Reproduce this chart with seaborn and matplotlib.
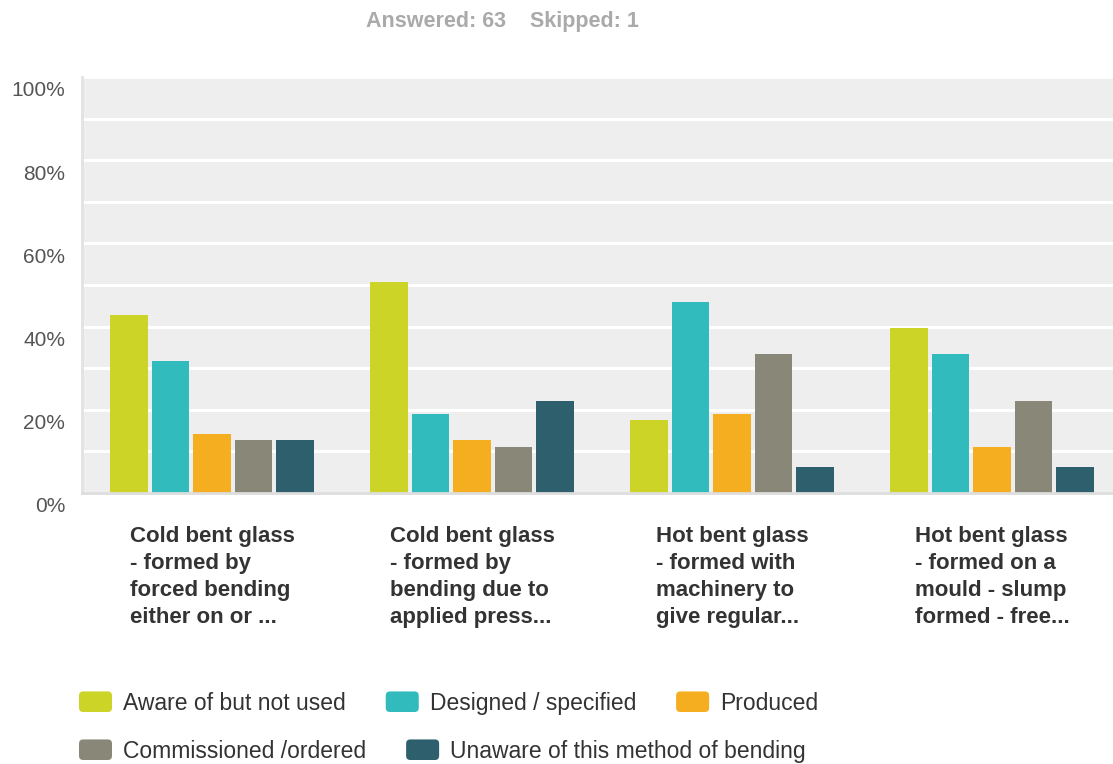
import matplotlib
matplotlib.use("Agg")
import matplotlib.pyplot as plt
import matplotlib.transforms as mtransforms
from matplotlib.patches import FancyBboxPatch, Rectangle
from matplotlib.legend_handler import HandlerPatch
from matplotlib.ticker import MultipleLocator, FuncFormatter
import seaborn as sns
import pandas as pd

categories = [
    "Cold bent glass\n- formed by\nforced bending\neither on or ...",
    "Cold bent glass\n- formed by\nbending due to\napplied press...",
    "Hot bent glass\n- formed with\nmachinery to\ngive regular...",
    "Hot bent glass\n- formed on a\nmould - slump\nformed - free...",
]
series = ["Aware of but not used", "Designed / specified", "Produced",
          "Commissioned /ordered", "Unaware of this method of bending"]
aware = [42.86, 50.79, 17.46, 39.68]
designed = [31.75, 19.05, 46.03, 33.33]
produced = [14.29, 12.70, 19.05, 11.11]
commissioned = [12.70, 11.11, 33.33, 22.22]
unaware = [12.70, 22.22, 6.35, 6.35]
colors = ["#CDD428", "#32BBBD", "#F5AE1F", "#898878", "#2D5F6C"]
title_text = "Answered: 63    Skipped: 1"

rows = []
for s, vals in zip(series, [aware, designed, produced, commissioned, unaware]):
    for c, v in zip(categories, vals):
        rows.append({"category": c, "series": s, "value": v})
df = pd.DataFrame(rows)

sns.set_style("white")
plt.rcParams["font.family"] = ["Liberation Sans", "DejaVu Sans"]

W, H = 1113, 764
fig = plt.figure(figsize=(W / 100, H / 100), dpi=100)
ax = fig.add_axes([82 / W, 1 - 493 / H, 1040 / W, 416 / H])
ax.set_facecolor("#EEEEEE")

sns.barplot(data=df, x="category", y="value", hue="series", order=categories,
            hue_order=series, palette=colors, width=0.8, gap=0.1,
            linewidth=0, saturation=1, ax=ax, legend=True)

ax.set_xlim(-0.5, 3.5)
ax.set_ylim(0, 100)
ax.yaxis.set_major_locator(MultipleLocator(20))
ax.yaxis.set_minor_locator(MultipleLocator(10))
ax.yaxis.set_major_formatter(FuncFormatter(lambda v, p: f"{int(v)}%"))
ax.grid(which="both", axis="y", color="white", linewidth=2.2)
ax.grid(which="both", axis="x", visible=False)
ax.set_axisbelow(True)
ax.set_xlabel("")
ax.set_ylabel("")
for side in ["top", "right"]:
    ax.spines[side].set_visible(False)
ax.spines["left"].set_color("#E2E2E2")
ax.spines["left"].set_linewidth(2)
ax.spines["bottom"].set_color("#DDDDDD")
ax.spines["bottom"].set_linewidth(2)

ax.tick_params(axis="y", which="both", length=0, pad=12, labelsize=15, labelcolor="#555555")
ax.tick_params(axis="x", length=0, pad=24, labelsize=16, labelcolor="#333333")
offset = mtransforms.ScaledTranslation(0, -12 / 100, fig.dpi_scale_trans)
for lab in ax.get_yticklabels():
    lab.set_transform(lab.get_transform() + offset)
for lab in ax.get_xticklabels():
    lab.set_fontweight("bold")
    lab.set_multialignment("left")
    lab.set_linespacing(1.37)

leg = ax.get_legend()
handles = list(leg.legend_handles)
labels = [t.get_text() for t in leg.texts]
leg.remove()


def rounded(legend, orig_handle, xdescent, ydescent, width, height, fontsize):
    return FancyBboxPatch((-xdescent, -ydescent), width, height,
                          boxstyle="round,pad=0,rounding_size=3")


hmap = {Rectangle: HandlerPatch(patch_func=rounded)}
fs = 16.5
px = fs * 100 / 72
common = dict(frameon=False, fontsize=fs, handlelength=33 / px, handleheight=23 / px,
              handletextpad=11 / px, columnspacing=40 / px, borderpad=0,
              borderaxespad=0, loc="center left", handler_map=hmap,
              labelcolor="#333333")
fig.legend(handles[:3], labels[:3], ncol=3, bbox_to_anchor=(79 / W, 1 - 703 / H), **common)
fig.legend(handles[3:], labels[3:], ncol=2, bbox_to_anchor=(79 / W, 1 - 751 / H), **common)

fig.text(502 / W, 1 - 22 / H, title_text, ha="center", va="center", fontsize=15.5,
         fontweight="bold", color="#AAAAAA")

fig.savefig("out.png", dpi=100)
